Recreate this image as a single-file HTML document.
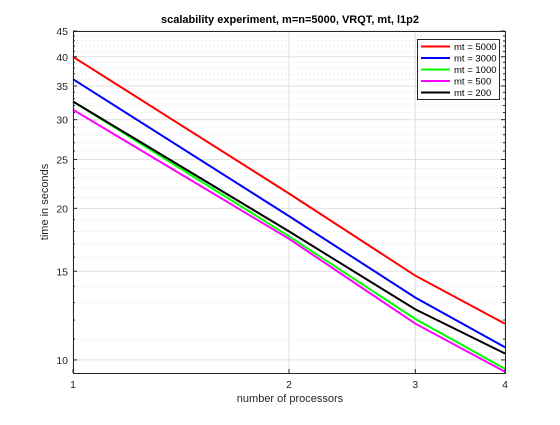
<!DOCTYPE html>
<html><head><meta charset="utf-8"><style>
body{margin:0;background:#fff;}
svg{font-family:"Liberation Sans",sans-serif;}
</style></head><body>
<svg id="chart" width="560" height="420">
<rect x="0" y="0" width="560" height="420" fill="#fff"/>
<g id="grid"></g>
<g id="series"></g>
<g id="axes"></g>
<text x="290" y="23" text-anchor="middle" font-size="11" font-weight="bold" fill="#000">scalability experiment, m=n=5000, VRQT, mt, l1p2</text>
<text x="290" y="402" text-anchor="middle" font-size="11" fill="#262626">number of processors</text>
<text x="0" y="0" transform="translate(48,202) rotate(-90)" text-anchor="middle" font-size="11" fill="#262626">time in seconds</text>
<g id="legend"></g>
</svg>
<script>
const xValues = [1, 2, 3, 4];
const seriesNames = ["mt = 5000", "mt = 3000", "mt = 1000", "mt = 500", "mt = 200"];
const mt5000 = [40.0, 21.4, 14.7, 11.8];
const mt3000 = [36.1, 19.3, 13.3, 10.6];
const mt1000 = [32.6, 17.6, 12.06, 9.6];
const mt500 = [31.4, 17.4, 11.8, 9.47];
const mt200 = [32.6, 18.0, 12.6, 10.3];
const xTicks = [1, 2, 3, 4];
const yTicks = [10, 15, 20, 25, 30, 35, 40, 45];
const yMinor = [11,12,13,14,16,17,18,19,21,22,23,24,26,27,28,29,31,32,33,34,36,37,38,39,41,42,43,44];

const NS = "http://www.w3.org/2000/svg";
const L = 73, R = 505, T = 31, B = 373;
const xMin = 1, xMax = 4, yMin = 9.42, yMax = 45;
function xs(v){ return L + (Math.log(v)-Math.log(xMin))/(Math.log(xMax)-Math.log(xMin))*(R-L); }
function ys(v){ return B - (Math.log(v)-Math.log(yMin))/(Math.log(yMax)-Math.log(yMin))*(B-T); }
function mk(tag, attrs, parent){
  const e = document.createElementNS(NS, tag);
  for (const k in attrs) e.setAttribute(k, attrs[k]);
  parent.appendChild(e); return e;
}
const grid = document.getElementById("grid");
const axes = document.getElementById("axes");
const series = document.getElementById("series");
const legend = document.getElementById("legend");

mk("rect",{x:L,y:T,width:R-L,height:B-T,fill:"#fff"},grid);
yMinor.forEach(v=>{
  const l = mk("line",{x1:L,x2:R,y1:ys(v),y2:ys(v),stroke:"#dcdcdc","stroke-width":1,"stroke-dasharray":"1,3"},grid);
  
  
});
yTicks.forEach(v=>{
  const l = mk("line",{x1:L,x2:R,y1:ys(v),y2:ys(v),stroke:"#e0e0e0","stroke-width":1},grid);
  
  
});
xTicks.forEach(v=>{
  const l = mk("line",{x1:xs(v),x2:xs(v),y1:T,y2:B,stroke:"#e0e0e0","stroke-width":1},grid);
  
  
});

const colors = ["#ff0000","#0000ff","#00ff00","#ff00ff","#000000"];
const data = [mt5000, mt3000, mt1000, mt500, mt200];
const drawOrder = [0,1,2,3,4];
drawOrder.forEach(i=>{
  const pts = xValues.map((x,j)=>xs(x).toFixed(1)+","+ys(data[i][j]).toFixed(1)).join(" ");
  const p = mk("polyline",{points:pts,fill:"none",stroke:colors[i],"stroke-width":2},series);
  
  
});

const box = mk("rect",{x:L+0.5,y:T+0.5,width:R-L,height:B-T,fill:"none",stroke:"#262626","stroke-width":1},axes);


yTicks.forEach(v=>{
  mk("line",{x1:L,x2:L+4,y1:ys(v),y2:ys(v),stroke:"#262626"},axes);
  mk("line",{x1:R-4,x2:R,y1:ys(v),y2:ys(v),stroke:"#262626"},axes);
  const t = mk("text",{x:L-5,y:ys(v)+4,"text-anchor":"end","font-size":"10.5",fill:"#262626"},axes);
  t.textContent = v;
  
  
});
yMinor.forEach(v=>{
  mk("line",{x1:L,x2:L+2,y1:ys(v),y2:ys(v),stroke:"#262626"},axes);
  mk("line",{x1:R-2,x2:R,y1:ys(v),y2:ys(v),stroke:"#262626"},axes);
});
xTicks.forEach(v=>{
  mk("line",{x1:xs(v),x2:xs(v),y1:B-4,y2:B,stroke:"#262626"},axes);
  const t = mk("text",{x:xs(v),y:B+15,"text-anchor":"middle","font-size":"10.5",fill:"#262626"},axes);
  t.textContent = v;
  
  
});

const lb = mk("rect",{x:417.5,y:39.5,width:82,height:60,fill:"#fff",stroke:"#262626","stroke-width":1},legend);


seriesNames.forEach((n,i)=>{
  const y = 46.5 + i*11.5;
  const l = mk("line",{x1:421,x2:450,y1:y,y2:y,stroke:colors[i],"stroke-width":2},legend);
  
  
  const t = mk("text",{x:454,y:y+3.5,"font-size":"9.5",fill:"#000"},legend);
  t.textContent = n;
  
  
});
</script>
</body></html>
